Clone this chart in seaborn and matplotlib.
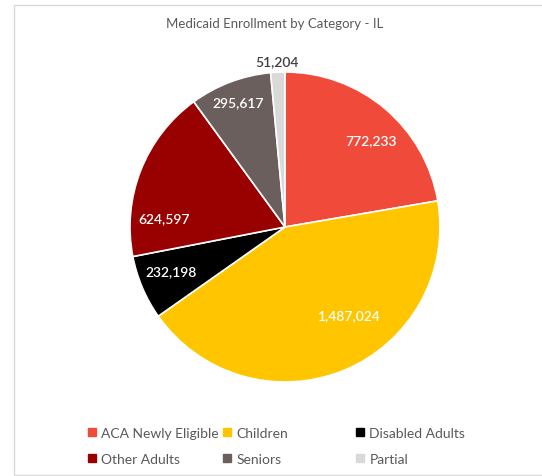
import matplotlib
matplotlib.use("Agg")
import matplotlib.pyplot as plt
from matplotlib.lines import Line2D
from matplotlib.patches import Rectangle
import numpy as np
import seaborn as sns

categories = ["ACA Newly Eligible", "Children", "Disabled Adults", "Other Adults", "Seniors", "Partial"]
values = [772233, 1487024, 232198, 624597, 295617, 51204]
colors = ["#F04B3A", "#FFC600", "#000000", "#990000", "#6B5F5D", "#D9D9D9"]
title = "Medicaid Enrollment by Category - IL"

# label placement style (radius factor, clockwise angle shift in degrees)
label_r = [0.79, 0.70, 0.79, 0.78, 0.86, 1.07]
label_shift = [4.6, -13.6, 2.1, -17.5, 0.0, 0.0]
label_colors = ["white", "white", "white", "white", "white", "#404040"]

sns.set_theme(style="white")
plt.rcParams["font.family"] = ["Lato", "DejaVu Sans"]

W, H = 542, 477
fig = plt.figure(figsize=(W / 100, H / 100), dpi=100)
fig.patch.set_facecolor("white")

# chart frame
fig.patches.append(Rectangle((14 / W, 1 / H), (W + 10 - 14) / W, (H - 7) / H,
                             transform=fig.transFigure, fill=False,
                             edgecolor="#D9D9D9", linewidth=1.0))

cx, cy, R = 285, 228, 155
ax = fig.add_axes([(cx - R) / W, (H - cy - R) / H, 2 * R / W, 2 * R / H])
wedges, _ = ax.pie(values, colors=colors, startangle=90, counterclock=False,
                   wedgeprops=dict(edgecolor="white", linewidth=1.2))
ax.set_xlim(-1, 1)
ax.set_ylim(-1, 1)
ax.set_aspect("equal")
ax.axis("off")

for w, v, r, s, c in zip(wedges, values, label_r, label_shift, label_colors):
    mid = np.deg2rad((w.theta1 + w.theta2) / 2 - s)
    ax.text(r * np.cos(mid), r * np.sin(mid), f"{v:,}", ha="center", va="center",
            color=c, fontsize=10, fontweight="semibold", clip_on=False)

fig.text(275 / W, 1 - 24 / H, title, ha="center", va="center",
         fontsize=9.5, color="#595959")

# legend: three columns of two rows
cols = [[0, 3], [1, 4], [2, 5]]
xs = [86, 221, 354]
for col, x in zip(cols, xs):
    handles = [Line2D([0], [0], marker="s", linestyle="none", markersize=6,
                      markerfacecolor=colors[i], markeredgecolor=colors[i]) for i in col]
    leg = fig.legend(handles, [categories[i] for i in col], loc="center left",
                     bbox_to_anchor=(x / W, 1 - 447 / H), frameon=False,
                     fontsize=10, handlelength=0.8, handletextpad=0.3,
                     borderaxespad=0, borderpad=0, labelspacing=1.0,
                     labelcolor="#595959")

fig.savefig("out.png", dpi=100)
